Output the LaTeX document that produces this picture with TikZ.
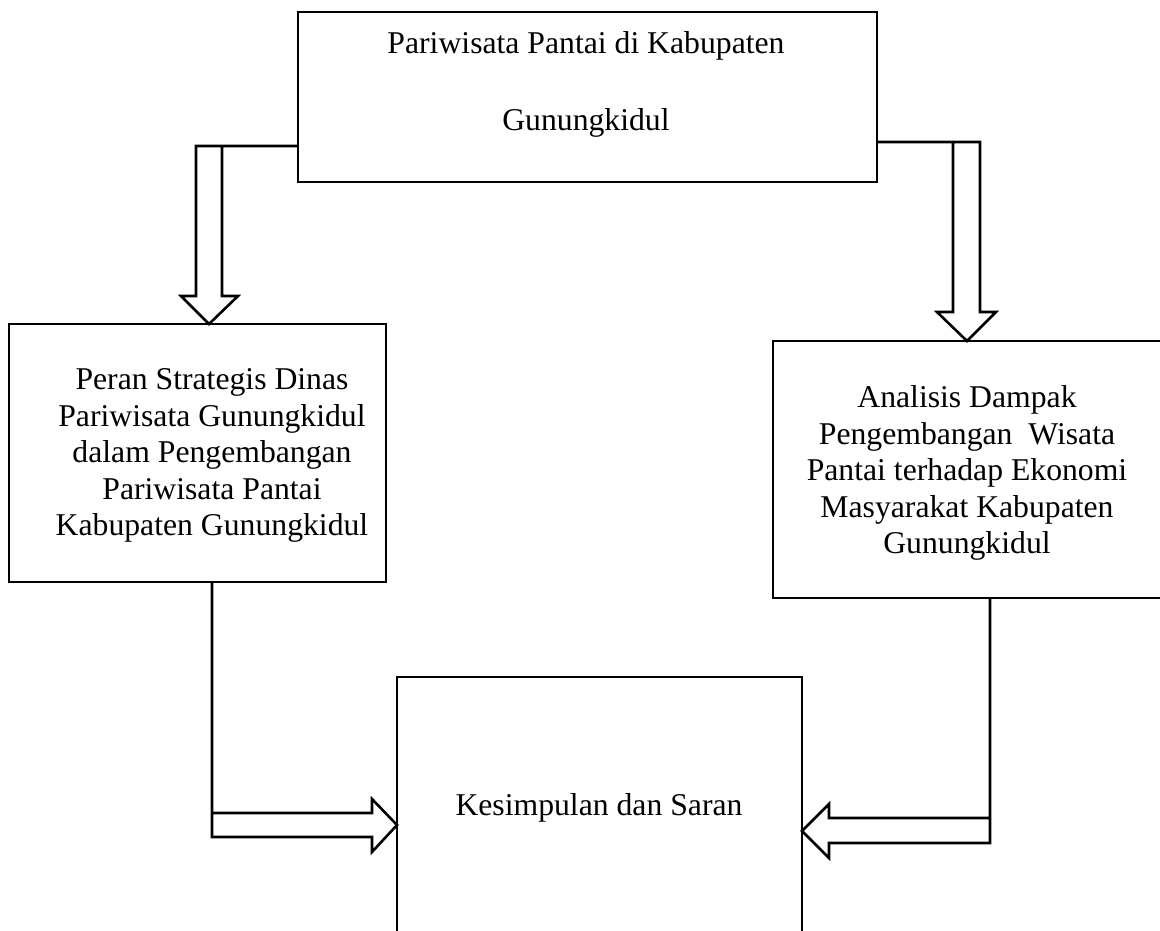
\documentclass[tikz,border=0pt]{standalone}
\usepackage{fontspec}
\setmainfont{Liberation Serif}
\begin{document}
\begin{tikzpicture}[x=1pt,y=-1pt,
  box/.style={draw=black, line width=2.6pt, inner sep=0pt, outer sep=0pt, anchor=north west},
  txt/.style={align=center, inner sep=0pt, font=\fontsize{31.7}{36.5}\selectfont},
  conn/.style={draw=black, line width=2.6pt, line join=miter}]
\clip (0,0) rectangle (1160,930);
% boxes
\node[box, minimum width=579pt, minimum height=170pt] (top) at (298,12) {};
\node[box, minimum width=377pt, minimum height=258pt] (left) at (9,324) {};
\node[box, minimum width=420pt, minimum height=257pt] (right) at (773,341) {};
\node[box, minimum width=405pt, minimum height=300pt] (bottom) at (397,677) {};
% texts
\node[txt, font=\fontsize{31.7}{77}\selectfont] (ttop) at (586,84.2) {Pariwisata Pantai di Kabupaten\\Gunungkidul};
\node[txt] (tleft) at (212,455.7) {Peran Strategis Dinas\\Pariwisata Gunungkidul\\dalam Pengembangan\\Pariwisata Pantai\\Kabupaten Gunungkidul};
\node[txt] (tright) at (967,473.2) {Analisis Dampak\\Pengembangan\ \ Wisata\\Pantai terhadap Ekonomi\\Masyarakat Kabupaten\\Gunungkidul};
\node[txt, anchor=base] (tbottom) at (599,815) {Kesimpulan dan Saran};
% block arrows
\draw[conn] (top.west |- 0,146) -- (196,146) -- (196,296) -- (181,296) -- (left.north -| 209,0) -- (238,296) -- (222,296) -- (222,146);
\draw[conn] (top.east |- 0,142) -- (980,142) -- (980,312) -- (996,312) -- (right.north -| 967,0) -- (937,312) -- (953,312) -- (953,142);
\draw[conn] (left.south -| 212,0) -- (212,837) -- (372,837) -- (372,852) -- (bottom.west |- 0,825) -- (372,799) -- (372,813) -- (212,813);
\draw[conn] (right.south -| 990,0) -- (990,843) -- (829,843) -- (829,858) -- (bottom.east |- 0,831) -- (829,804) -- (829,818) -- (990,818);
\end{tikzpicture}
\end{document}
